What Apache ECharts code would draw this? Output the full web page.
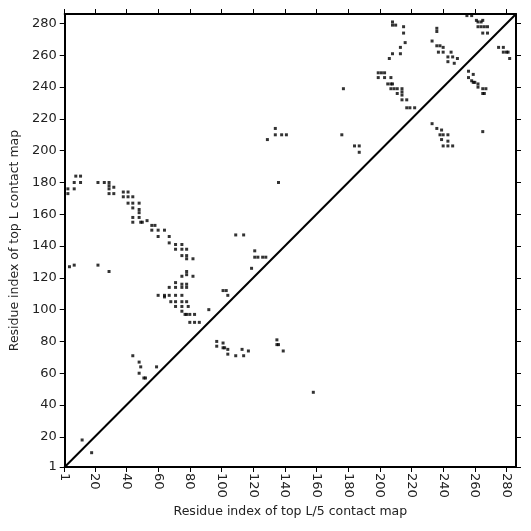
<!DOCTYPE html>
<html>
<head>
<meta charset="utf-8">
<script src="https://cdn.jsdelivr.net/npm/echarts@6/dist/echarts.min.js"></script>
<style>
html, body { margin: 0; padding: 0; background: #fff; }
#chart { width: 531px; height: 531px; }
</style>
</head>
<body>
<div id="chart"></div>
<script>
var tickValues = [1, 20, 40, 60, 80, 100, 120, 140, 160, 180, 200, 220, 240, 260, 280];
var axisMin = 1;
var axisMax = 286;

// contacts above the diagonal (top L map)
var contactsUpper = [
	[8, 184], [11, 184], [7, 180], [11, 180], [3, 176], [7, 176], [3, 173],
	[22, 180], [26, 180], [29, 180], [29, 178], [29, 176], [32, 177], [29, 173], [32, 173],
	[38, 174], [41, 174], [38, 171], [41, 171], [44, 171], [41, 167], [44, 167], [48, 167],
	[44, 164], [48, 163], [48, 161], [44, 158], [48, 158], [44, 155], [49, 155], [50, 155],
	[53, 156], [56, 153], [58, 153], [56, 150], [60, 150], [64, 150], [60, 146], [67, 146],
	[67, 142], [71, 141], [75, 141], [71, 138], [75, 138], [78, 138], [75, 134], [78, 134],
	[78, 132], [82, 132],
	[7, 128], [4, 127], [22, 128], [29, 124],
	[78, 124], [78, 122], [82, 121], [75, 121], [71, 117], [75, 116], [78, 116],
	[67, 114], [71, 114], [75, 114], [78, 114], [60, 109], [64, 109], [67, 109], [71, 109],
	[75, 109], [64, 108], [68, 105], [71, 105], [75, 105], [78, 105], [71, 102], [75, 102],
	[79, 102], [75, 99], [78, 97], [77, 97], [80, 97], [83, 97], [80, 92], [83, 92], [86, 92],
	[92, 100], [101, 112], [103, 112], [104, 109],
	[44, 71], [48, 67], [49, 64], [48, 60], [51, 57], [52, 57], [59, 64],
	[12, 18], [18, 10],
	[97, 80], [97, 77], [101, 79], [101, 76], [102, 76], [104, 75], [104, 72], [109, 71],
	[113, 75], [114, 71], [117, 74], [135, 81], [135, 78], [136, 78], [139, 74],
	[109, 147], [114, 147], [121, 137], [121, 133], [123, 133], [126, 133], [128, 133], [119, 126],
	[136, 180], [134, 214], [134, 210], [138, 210], [141, 210], [129, 207], [176, 210],
	[177, 239], [184, 203], [187, 203], [187, 199],
	[208, 281], [208, 279], [210, 279], [215, 278], [215, 274], [216, 268], [213, 265],
	[213, 261], [208, 261], [206, 258],
	[199, 249], [201, 249], [203, 249], [199, 246], [203, 246], [207, 246],
	[205, 242], [207, 242], [208, 242], [207, 239], [209, 239], [211, 239], [214, 239], [214, 237],
	[211, 236], [214, 235], [214, 232], [217, 232], [217, 227], [219, 227], [222, 227],
	[233, 269], [236, 277], [236, 275], [236, 266], [238, 266], [240, 265], [237, 262],
	[240, 262], [245, 262], [243, 259], [246, 259], [249, 258], [243, 256], [247, 255],
	[255, 285], [258, 285], [261, 282], [262, 281], [264, 281], [265, 282], [266, 278],
	[262, 278], [264, 278], [268, 278], [265, 274], [268, 274]
];

// contacts below the diagonal (top L/5 map)
var contactsLower = [
	[275, 265], [278, 265], [278, 262], [280, 262], [281, 262], [282, 258],
	[256, 250], [259, 248], [256, 246], [258, 244], [260, 243], [262, 242], [259, 243],
	[262, 240], [265, 239], [267, 239], [265, 236], [266, 236],
	[233, 217], [236, 214], [239, 213], [238, 210], [240, 210], [243, 210], [239, 207],
	[243, 206], [243, 203], [246, 203], [240, 203], [265, 212], [158, 48]
];

var diagonal = [[axisMin, axisMin], [axisMax, axisMax]];

var chart = echarts.init(document.getElementById('chart'));
var fontFamily = 'DejaVu Sans';

function makeAxis(opts) {
	return Object.assign({
		type: 'value',
		min: axisMin,
		max: axisMax,
		splitLine: { show: false },
		axisLine: { show: true, onZero: false, lineStyle: { color: '#000', width: 2 } },
		axisTick: { show: true, length: 5, customValues: tickValues, lineStyle: { color: '#000', width: 1 } },
		axisLabel: { show: false, customValues: tickValues }
	}, opts);
}

var option = {
	animation: false,
	backgroundColor: '#fff',
	grid: { left: 63, right: 15, top: 14, bottom: 64 },
	xAxis: [
		makeAxis({
			position: 'bottom',
			name: 'Residue index of top L/5 contact map',
			nameLocation: 'middle',
			nameGap: 37,
			nameTextStyle: { color: '#222', fontSize: 12.5, fontFamily: fontFamily },
			axisLabel: { show: true, customValues: tickValues, rotate: -90, margin: 6, color: '#222', fontSize: 13, fontFamily: fontFamily }
		}),
		makeAxis({ position: 'top' })
	],
	yAxis: [
		makeAxis({
			position: 'left',
			name: 'Residue index of top L contact map',
			nameLocation: 'middle',
			nameGap: 35,
			nameTextStyle: { color: '#222', fontSize: 12.5, fontFamily: fontFamily },
			axisLabel: { show: true, customValues: tickValues, margin: 8, color: '#222', fontSize: 13, fontFamily: fontFamily }
		}),
		makeAxis({ position: 'right' })
	],
	series: [{
		type: 'line',
		data: diagonal,
		symbol: 'none',
		lineStyle: { color: '#000', width: 2 },
		z: 3
	}, {
		type: 'scatter',
		data: contactsUpper,
		symbol: 'rect',
		symbolSize: 3,
		itemStyle: { color: '#000' }
	}, {
		type: 'scatter',
		data: contactsLower,
		symbol: 'rect',
		symbolSize: 3,
		itemStyle: { color: '#000' }
	}]
};
chart.setOption(option);
</script>
</body>
</html>
